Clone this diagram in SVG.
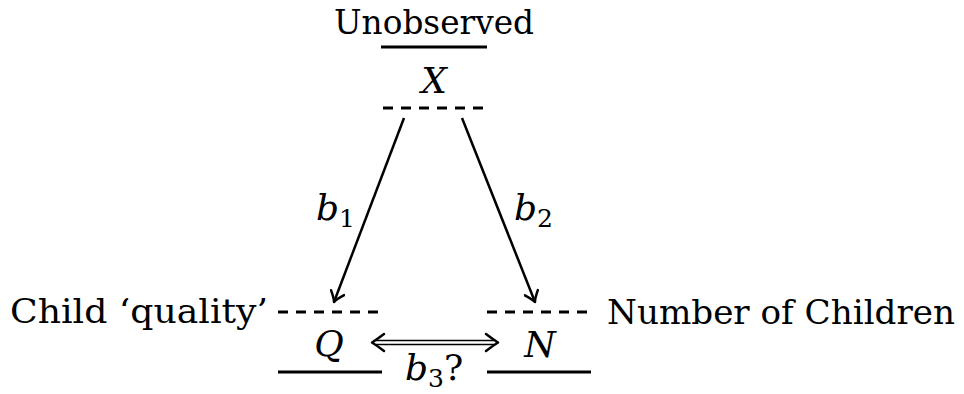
<svg xmlns="http://www.w3.org/2000/svg" width="964" height="394" viewBox="0 0 964 394">
<style>
text{font-family:'DejaVu Serif',serif;fill:#000}
.lab{font-size:34px}
.m{font-size:36px;font-style:italic}
.sub{font-size:25px;font-style:normal}
.solid{stroke:#000;stroke-width:3;fill:none}
.dash{stroke:#000;stroke-width:3;fill:none;stroke-dasharray:10 8}
.arr{stroke:#000;stroke-width:2.5;fill:none}
.head{stroke:#000;stroke-width:2.5;fill:none;stroke-linecap:round;stroke-linejoin:round}
</style>
<defs>
<marker id="ah" viewBox="-12 -8 14 16" markerWidth="14" markerHeight="16" refX="0" refY="0" orient="auto" markerUnits="userSpaceOnUse">
<path d="M-10,-7 Q-3,-1 0,0 Q-3,1 -10,7" class="head"/>
</marker>
</defs>
<g id="connectors">
<line x1="404" y1="118" x2="334" y2="302" class="arr" marker-end="url(#ah)"/>
<line x1="462" y1="118" x2="535" y2="302" class="arr" marker-end="url(#ah)"/>
<g id="double">
<line x1="376" y1="340.5" x2="494" y2="340.5" stroke="#000" stroke-width="1.5"/>
<line x1="376" y1="344.5" x2="494" y2="344.5" stroke="#000" stroke-width="1.5"/>
<path d="M384,334 Q376,340 372,342.5 Q376,345 384,351" class="head" stroke-width="2"/>
<path d="M486,334 Q494,340 498,342.5 Q494,345 486,351" class="head" stroke-width="2"/>
</g>
<text x="316" y="220" class="m">b<tspan class="sub" dy="7">1</tspan></text>
<text x="514" y="220" class="m">b<tspan class="sub" dy="7">2</tspan></text>
<text x="405" y="380" class="m">b<tspan class="sub" dy="7">3</tspan><tspan dy="-7" font-style="normal">?</tspan></text>
</g>
<g id="node-X">
<text x="434" y="34" class="lab" text-anchor="middle" textLength="200" lengthAdjust="spacingAndGlyphs">Unobserved</text>
<line x1="381" y1="47" x2="487" y2="47" class="solid"/>
<text x="434" y="93" class="m" text-anchor="middle">X</text>
<line x1="383" y1="108" x2="487" y2="108" class="dash"/>
</g>
<g id="node-Q">
<text x="10" y="323" class="lab" textLength="258" lengthAdjust="spacingAndGlyphs">Child ‘quality’</text>
<line x1="278" y1="312" x2="382" y2="312" class="dash"/>
<text x="329" y="356" class="m" text-anchor="middle">Q</text>
<line x1="278" y1="372" x2="382" y2="372" class="solid"/>
</g>
<g id="node-N">
<text x="607" y="324" class="lab" textLength="348" lengthAdjust="spacingAndGlyphs">Number of Children</text>
<line x1="487" y1="312" x2="591" y2="312" class="dash"/>
<text x="540" y="357" class="m" text-anchor="middle">N</text>
<line x1="487" y1="372" x2="591" y2="372" class="solid"/>
</g>
</svg>
